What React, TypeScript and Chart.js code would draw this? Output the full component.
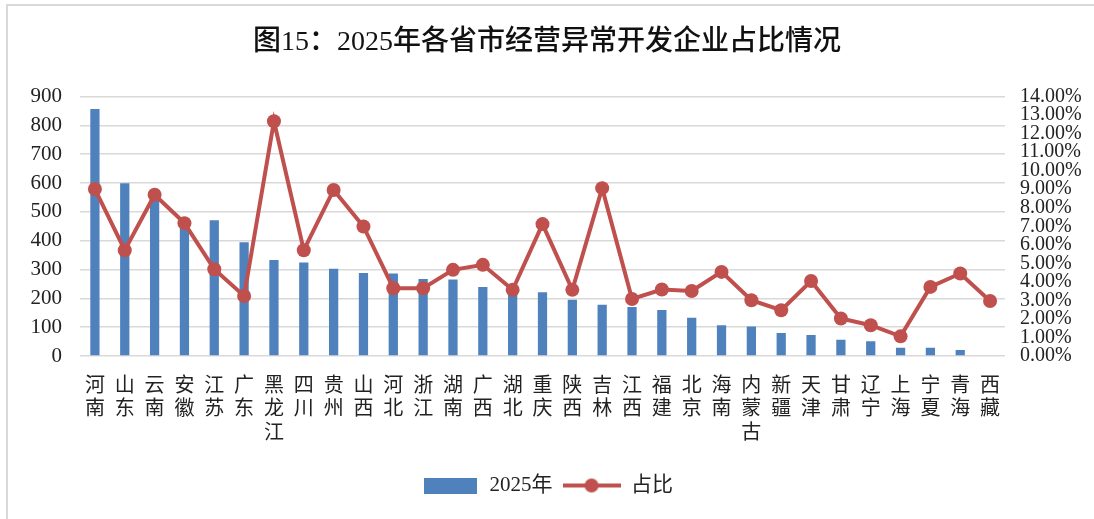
import React, { useEffect, useRef } from 'react';
import { Chart, registerables } from 'chart.js';

Chart.register(...registerables);

const titleText = '图15：2025年各省市经营异常开发企业占比情况';
const barLabel = '2025年';
const lineLabel = '占比';

const provinces: string[][] = [
  ['河', '南'], ['山', '东'], ['云', '南'], ['安', '徽'], ['江', '苏'], ['广', '东'],
  ['黑', '龙', '江'], ['四', '川'], ['贵', '州'], ['山', '西'], ['河', '北'], ['浙', '江'],
  ['湖', '南'], ['广', '西'], ['湖', '北'], ['重', '庆'], ['陕', '西'], ['吉', '林'],
  ['江', '西'], ['福', '建'], ['北', '京'], ['海', '南'], ['内', '蒙', '古'], ['新', '疆'],
  ['天', '津'], ['甘', '肃'], ['辽', '宁'], ['上', '海'], ['宁', '夏'], ['青', '海'], ['西', '藏'],
];

const counts: number[] = [
  857, 599, 550, 452, 471, 395, 333, 324, 303, 288,
  286, 267, 265, 239, 230, 221, 195, 178, 170, 160,
  133, 107, 102, 80, 73, 56, 51, 29, 29, 21, 3,
];

const shares: number[] = [
  9.01, 5.71, 8.70, 7.17, 4.68, 3.24, 12.67, 5.71, 8.96, 6.99,
  3.66, 3.66, 4.65, 4.92, 3.57, 7.12, 3.57, 9.06, 3.08, 3.59,
  3.51, 4.54, 3.01, 2.47, 4.05, 2.02, 1.66, 1.06, 3.73, 4.45, 2.97,
];

const leftMax = 900;
const leftStep = 100;
const rightMax = 14;
const rightStep = 1;

const BLUE = '#4f81bd';
const RED = '#c0504d';
const GRID = '#d9d9d9';
const FONT = "'Liberation Serif', 'Noto Sans CJK SC', serif";

function makeBarIcon(): HTMLCanvasElement {
  const c = document.createElement('canvas');
  c.width = 53;
  c.height = 16;
  const ctx = c.getContext('2d')!;
  ctx.fillStyle = BLUE;
  ctx.fillRect(0, 0, 53, 16);
  return c;
}

function makeLineIcon(): HTMLCanvasElement {
  const c = document.createElement('canvas');
  c.width = 58;
  c.height = 16;
  const ctx = c.getContext('2d')!;
  ctx.strokeStyle = RED;
  ctx.lineWidth = 4;
  ctx.beginPath();
  ctx.moveTo(0, 8);
  ctx.lineTo(58, 8);
  ctx.stroke();
  ctx.fillStyle = RED;
  ctx.beginPath();
  ctx.arc(29, 8, 7, 0, Math.PI * 2);
  ctx.fill();
  return c;
}

const borderPlugin = {
  id: 'frameBorder',
  beforeDraw(chart: any) {
    const ctx = chart.ctx;
    ctx.save();
    ctx.fillStyle = '#ffffff';
    ctx.fillRect(0, 0, chart.width, chart.height);
    ctx.strokeStyle = GRID;
    ctx.lineWidth = 2;
    ctx.beginPath();
    ctx.moveTo(7, chart.height);
    ctx.lineTo(7, 5);
    ctx.lineTo(chart.width, 5);
    ctx.stroke();
    ctx.restore();
  },
};

export default function App() {
  const ref = useRef<HTMLCanvasElement | null>(null);

  useEffect(() => {
    if (!ref.current) return;
    const barIcon = makeBarIcon();
    const lineIcon = makeLineIcon();
    const chart = new Chart(ref.current, {
      type: 'bar',
      data: {
        labels: provinces,
        datasets: [
          {
            type: 'line',
            label: lineLabel,
            data: shares,
            yAxisID: 'y1',
            borderColor: RED,
            backgroundColor: RED,
            borderWidth: 4,
            pointRadius: 7,
            pointBackgroundColor: RED,
            pointBorderColor: RED,
            pointBorderWidth: 0,
            tension: 0,
            order: 0,
          } as any,
          {
            type: 'bar',
            label: barLabel,
            data: counts,
            yAxisID: 'y',
            backgroundColor: BLUE,
            categoryPercentage: 1,
            barPercentage: 0.31,
            order: 1,
          } as any,
        ],
      },
      options: {
        responsive: false,
        animation: false,
        layout: { padding: { top: 0, bottom: 13, left: 0, right: 0 } },
        plugins: {
          title: {
            display: true,
            text: titleText,
            color: '#111',
            font: { family: FONT, size: 28, weight: '500', lineHeight: 1.2 },
            padding: { top: 26, bottom: 37 },
          },
          legend: {
            display: true,
            position: 'bottom',
            labels: {
              usePointStyle: true,
              pointStyleWidth: 58,
              padding: 10,
              color: '#222',
              font: { family: FONT, size: 21 },
              generateLabels: () => [
                {
                  text: barLabel,
                  pointStyle: barIcon,
                  fillStyle: BLUE,
                  strokeStyle: BLUE,
                  lineWidth: 0,
                  hidden: false,
                  datasetIndex: 1,
                  fontColor: '#222',
                } as any,
                {
                  text: lineLabel,
                  pointStyle: lineIcon,
                  fillStyle: RED,
                  strokeStyle: RED,
                  lineWidth: 0,
                  hidden: false,
                  datasetIndex: 0,
                  fontColor: '#222',
                } as any,
              ],
            },
          },
          tooltip: { enabled: false },
        },
        scales: {
          x: {
            grid: { display: false, drawTicks: false },
            border: { display: false },
            ticks: {
              autoSkip: false,
              maxRotation: 0,
              minRotation: 0,
              padding: 19,
              color: '#222',
              font: { family: FONT, size: 20, lineHeight: 1.17 },
            },
            afterFit: (scale: any) => {
              scale.height = 109;
            },
          },
          y: {
            position: 'left',
            min: 0,
            max: leftMax,
            grid: { color: GRID, lineWidth: 1.5, drawTicks: false },
            border: { display: false },
            ticks: {
              stepSize: leftStep,
              autoSkip: false,
              padding: 18,
              color: '#222',
              font: { family: FONT, size: 21 },
            },
            afterFit: (scale: any) => {
              scale.width = 80;
            },
          },
          y1: {
            position: 'right',
            min: 0,
            max: rightMax,
            grid: { display: false, drawTicks: false },
            border: { display: false },
            ticks: {
              stepSize: rightStep,
              autoSkip: false,
              padding: 15,
              color: '#222',
              font: { family: FONT, size: 20 },
              callback: (v: any) => Number(v).toFixed(2) + '%',
            },
            afterFit: (scale: any) => {
              scale.width = 89;
            },
          },
        },
      },
      plugins: [borderPlugin],
    });
    return () => chart.destroy();
  }, []);

  return (
    <div style={{ position: 'absolute', left: 0, top: 0, width: 1094, height: 519, background: '#fff' }}>
      <canvas ref={ref} width={1094} height={519} style={{ display: 'block' }} />
    </div>
  );
}
